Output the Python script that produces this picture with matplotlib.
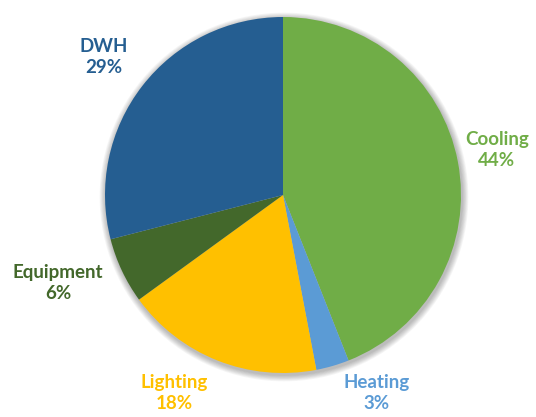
import matplotlib
import matplotlib.pyplot as plt
from matplotlib.patches import Circle

labels = ['Cooling', 'Heating', 'Lighting', 'Equipment', 'DWH']
shares = [44, 3, 18, 6, 29]
colors = ['#70AD47', '#5B9BD5', '#FFC000', '#43682B', '#255E91']

# label centres in pixel coords (x from left, y from top)
label_xy = [(497, 150), (377, 393), (174, 393), (58, 283), (104, 57)]

W, H = 536, 417
cx, cy, r = 283, 195, 178

fig = plt.figure(figsize=(W / 100, H / 100), dpi=100)
ax = fig.add_axes([0, 0, 1, 1])

# soft shadow round the pie
for i in range(8, 0, -1):
    ax.add_patch(Circle((cx + 1, H - cy - 2), r + i * 0.8, color='black',
                        alpha=0.035, lw=0, zorder=0))

ax.pie(shares, colors=colors, startangle=90, counterclock=False,
       center=(cx, H - cy), radius=r, frame=True,
       wedgeprops=dict(linewidth=0, zorder=2))
ax.set_xlim(0, W)
ax.set_ylim(0, H)
ax.set_aspect('equal')
ax.axis('off')

for lab, val, col, (x, y) in zip(labels, shares, colors, label_xy):
    ax.text(x, H - y, f'{lab}\n{val}%', ha='center', va='center',
            color=col, fontsize=13.5, fontweight='bold', family='Lato',
            linespacing=1.3)

plt.savefig('out.png', dpi=100)
